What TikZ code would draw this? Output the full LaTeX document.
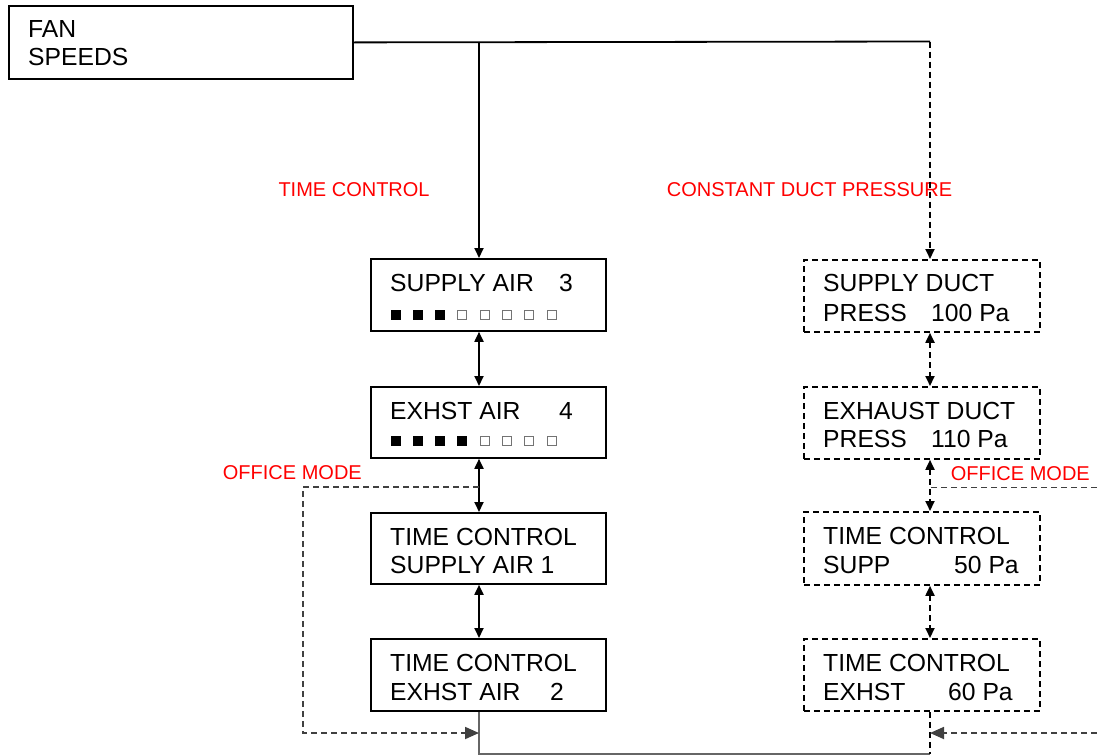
\documentclass[tikz,border=0pt]{standalone}
\usepackage{fontspec}
\setmainfont{Liberation Sans}
\usetikzlibrary{arrows.meta}
\definecolor{dgray}{HTML}{404040}
\begin{document}
\begin{tikzpicture}[x=1pt,y=-1pt,
  box/.style={draw, line width=1.8pt, inner sep=0pt, anchor=north west},
  dbox/.style={box, dash pattern=on 6pt off 4pt},
  txt/.style={anchor=base west, inner sep=0pt, font=\fontsize{24.7}{28}\selectfont},
  lbl/.style={anchor=base west, inner sep=0pt, text=red, font=\fontsize{20}{24}\selectfont},
  conn/.style={line width=1.8pt},
  dconn/.style={line width=1.8pt, dash pattern=on 6pt off 4pt},
  tip/.style={-{Triangle[length=10pt,width=9pt]}},
  dtip/.style={{Triangle[length=10pt,width=9pt]}-{Triangle[length=10pt,width=9pt]}},
  otip/.style={-{Triangle[length=14pt,width=12pt]}},
  fsq/.style={fill=black},
  hsq/.style={draw=gray!90!black, line width=1pt}
]
\useasboundingbox (0,0) rectangle (1097,755);

% boxes
\node[box, minimum width=344pt, minimum height=73pt] (fan) at (8,5) {};
\node[box, minimum width=235pt, minimum height=72pt] (s1) at (370,258) {};
\node[box, minimum width=235pt, minimum height=71pt] (s2) at (370,386) {};
\node[box, minimum width=235pt, minimum height=71pt] (s3) at (370,512) {};
\node[box, minimum width=235pt, minimum height=72pt] (s4) at (370,638) {};
\node[dbox, minimum width=236pt, minimum height=72pt] (r1) at (803,259) {};
\node[dbox, minimum width=236pt, minimum height=72pt] (r2) at (803,386) {};
\node[dbox, minimum width=236pt, minimum height=73pt] (r3) at (803,511) {};
\node[dbox, minimum width=236pt, minimum height=72pt] (r4) at (803,638) {};

% texts
\node[txt] (fan1) at (28,37.3) {FAN};
\node[txt] (fan2) at (28,65) {SPEEDS};
\node[txt] (s1a) at (390,291.7) {SUPPLY AIR};
\node[txt] (s1b) at (559,291.7) {3};
\node[txt] (s2a) at (390,419) {EXHST AIR};
\node[txt] (s2b) at (559,419) {4};
\node[txt] (s3a) at (390,545) {TIME CONTROL};
\node[txt] (s3b) at (390,573.3) {SUPPLY AIR 1};
\node[txt] (s4a) at (390,671) {TIME CONTROL};
\node[txt] (s4b) at (390,700) {EXHST AIR};
\node[txt] (s4c) at (550,700) {2};
\node[txt] (r1a) at (823,291.7) {SUPPLY DUCT};
\node[txt] (r1b) at (823,321) {PRESS};
\node[txt] (r1c) at (931,321) {100 Pa};
\node[txt] (r2a) at (823,419) {EXHAUST DUCT};
\node[txt] (r2b) at (823,447.3) {PRESS};
\node[txt] (r2c) at (931,447.3) {110 Pa};
\node[txt] (r3a) at (823,544.3) {TIME CONTROL};
\node[txt] (r3b) at (823,573.3) {SUPP};
\node[txt] (r3c) at (954,573.3) {50 Pa};
\node[txt] (r4a) at (823,671) {TIME CONTROL};
\node[txt] (r4b) at (823,700) {EXHST};
\node[txt] (r4c) at (948,700) {60 Pa};

% red labels
\node[lbl] (l1) at (278.3,196.7) {TIME CONTROL};
\node[lbl] (l2) at (666.7,196.7) {CONSTANT DUCT PRESSURE};
\node[lbl] (l3) at (222.7,479) {OFFICE MODE};
\node[lbl] (l4) at (950.7,480.7) {OFFICE MODE};

% level squares
\foreach \i in {0,1,2} {\fill[fsq] (390.5+\i*22.3,309.5) rectangle ++(10,10);}
\foreach \i in {3,...,7} {\draw[hsq] (391+\i*22.3,310) rectangle ++(9,9);}
\foreach \i in {0,1,2,3} {\fill[fsq] (390.5+\i*22.3,436) rectangle ++(10,10);}
\foreach \i in {4,...,7} {\draw[hsq] (391+\i*22.3,436.5) rectangle ++(9,9);}

% coordinates
\coordinate (jl) at (479,41.5);
\coordinate (jr) at (930,41.5);
\coordinate (ol) at (479,487);
\coordinate (ol2) at (303,487);
\coordinate (ol3) at (303,733);
\coordinate (or) at (1097,487.5);
\coordinate (orr) at (931,487.5);
\coordinate (br) at (1097,733);
\coordinate (bl) at (479,754);
\coordinate (bm) at (930,754);

% top connectors
\draw[conn] (fan.east) -- (jr);
\draw[conn, tip] (jl) -- (jl |- s1.north);
\draw[dconn, tip] (jr) -- (jr |- r1.north);

% left column
\draw[conn, dtip] (s1.south -| jl) -- (s2.north -| jl);
\draw[conn, dtip] (s2.south -| jl) -- (s3.north -| jl);
\draw[conn, dtip] (s3.south -| jl) -- (s4.north -| jl);

% right column
\draw[dconn, dtip] (r1.south -| jr) -- (r2.north -| jr);
\draw[dconn, dtip] (r2.south -| jr) -- (r3.north -| jr);
\draw[dconn, dtip] (r3.south -| jr) -- (r4.north -| jr);

% bottom
\draw[line width=1.3pt, gray!80!black] (s4.south -| jl) -- (bl) -- (bm);
\draw[dconn] (r4.south -| jr) -- (bm);

% office mode
\draw[dconn, dgray, otip] (ol) -- (ol2) -- (ol3) -- (ol3 -| jl);
\draw[dconn, dgray] (or) -- (orr);
\draw[dconn, dgray, otip] (br) -- (br -| jr);
\end{tikzpicture}
\end{document}
